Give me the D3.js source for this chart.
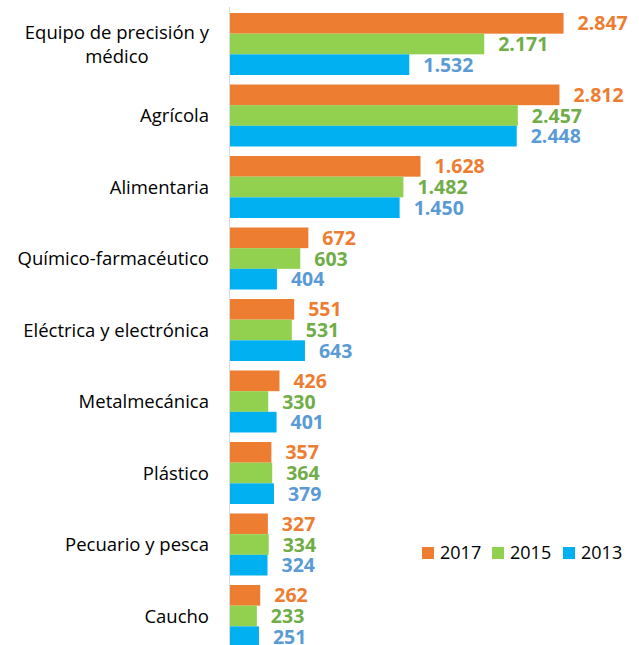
<!DOCTYPE html>
<html>
<head>
<meta charset="utf-8">
<script src="https://cdn.jsdelivr.net/npm/d3@7"></script>
<style>
  body { margin: 0; background: #fff; }
  svg { display: block; font-family: "Open Sans", sans-serif; }
</style>
</head>
<body>
<svg id="chart" width="639" height="645"></svg>
<script>
// categories, top to bottom
var categories = [
  'Equipo de precisión y médico',
  'Agrícola',
  'Alimentaria',
  'Químico-farmacéutico',
  'Eléctrica y electrónica',
  'Metalmecánica',
  'Plástico',
  'Pecuario y pesca',
  'Caucho'
];
var years = ['2017', '2015', '2013'];
var values2017 = [2847, 2812, 1628, 672, 551, 426, 357, 327, 262];
var values2015 = [2171, 2457, 1482, 603, 531, 330, 364, 334, 233];
var values2013 = [1532, 2448, 1450, 404, 643, 401, 379, 324, 251];

var bar_colors   = { '2017': '#ED7D31', '2015': '#92D050', '2013': '#00B0F0' };
var label_colors = { '2017': '#ED7D31', '2015': '#70AD47', '2013': '#5B9BD5' };

var series = { '2017': values2017, '2015': values2015, '2013': values2013 };

var svg = d3.select('#chart');

var axis_x = 229.5;

var x_scale = d3.scaleLinear()
  .domain([0, 3000])
  .range([axis_x, axis_x + 352]);

var y_scale = d3.scaleBand()
  .domain(categories)
  .range([3.5, 656.5])
  .padding(0.133);

var y_inner = d3.scaleBand()
  .domain(years)
  .range([0, y_scale.bandwidth()]);

var fmt = d3.formatLocale({ decimal: ',', thousands: '.', grouping: [3], currency: ['', ''] }).format(',d');

// build rows
var rows = categories.map(function(cat, i){
  return {
    cat: cat,
    vals: years.map(function(yr){ return { year: yr, value: series[yr][i] }; })
  };
});

var groups = svg.selectAll('.group')
  .data(rows)
  .enter()
  .append('g')
  .classed('group', true)
  .attr('transform', function(d){ return 'translate(0,' + y_scale(d.cat) + ')'; });

groups.selectAll('rect')
  .data(function(d){ return d.vals; })
  .enter()
  .append('rect')
  .attr('x', x_scale(0))
  .attr('y', function(d){ return y_inner(d.year); })
  .attr('width', function(d){ return x_scale(d.value) - x_scale(0); })
  .attr('height', y_inner.bandwidth())
  .attr('fill', function(d){ return bar_colors[d.year]; });

groups.selectAll('text.val')
  .data(function(d){ return d.vals; })
  .enter()
  .append('text')
  .classed('val', true)
  .attr('x', function(d){ return x_scale(d.value) + 14; })
  .attr('y', function(d){ return y_inner(d.year) + y_inner.bandwidth() / 2; })
  .attr('dy', '0.36em')
  .attr('font-size', 19.5)
  .attr('font-weight', 'bold')
  .attr('fill', function(d){ return label_colors[d.year]; })
  .text(function(d){ return fmt(d.value); });

// axis line
svg.append('line')
  .attr('x1', axis_x)
  .attr('x2', axis_x)
  .attr('y1', 7)
  .attr('y2', 645)
  .attr('stroke', '#D9D9D9')
  .attr('stroke-width', 1);

// category labels (first one wraps to two centered lines)
var label_right = 209;
var label_lines = {
  'Equipo de precisión y médico': ['Equipo de precisión y', 'médico']
};

categories.forEach(function(cat){
  var cy = y_scale(cat) + y_scale.bandwidth() / 2;
  var lines = label_lines[cat] || [cat];
  var t = svg.append('text')
    .attr('font-size', 18.5)
    .attr('fill', '#000');
  lines.forEach(function(line, i){
    t.append('tspan')
      .attr('x', 0)
      .attr('y', cy + (i - (lines.length - 1) / 2) * 24)
      .attr('dy', '0.36em')
      .text(line);
  });
  // center lines on widest, right-align block
  var widths = [];
  t.selectAll('tspan').each(function(){ widths.push(this.getComputedTextLength()); });
  var wmax = d3.max(widths);
  var cx = label_right - wmax / 2;
  t.attr('text-anchor', 'middle')
    .selectAll('tspan').attr('x', cx);
});

// legend
var legend = svg.append('g').attr('transform', 'translate(422,553)');
var legend_x = { '2017': 0, '2015': 70, '2013': 141 };
years.forEach(function(yr){
  var g = legend.append('g').attr('transform', 'translate(' + legend_x[yr] + ',0)');
  g.append('rect')
    .attr('x', 0).attr('y', -6)
    .attr('width', 12).attr('height', 12)
    .attr('fill', bar_colors[yr]);
  g.append('text')
    .attr('x', 18).attr('y', 0)
    .attr('dy', '0.36em')
    .attr('font-size', 18)
    .attr('fill', '#000')
    .text(yr);
});
</script>
</body>
</html>
